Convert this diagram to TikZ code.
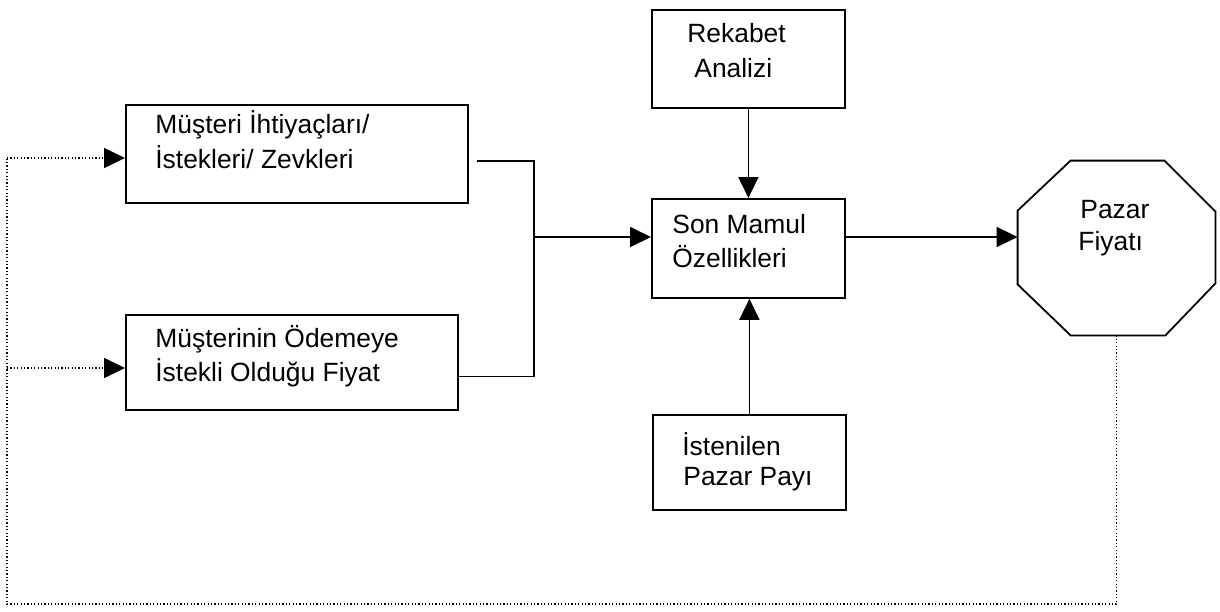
\documentclass[tikz,border=0pt]{standalone}
\usepackage{fontspec}
\setmainfont{Liberation Sans}
\usetikzlibrary{arrows.meta,calc}
\begin{document}
\begin{tikzpicture}[x=0.5pt,y=-0.5pt,
  box/.style={draw,line width=0.9pt,inner sep=0pt,anchor=north west},
  lbl/.style={anchor=base west,inner sep=0pt,font=\fontsize{13.2}{16.5}\selectfont},
  link/.style={line width=0.9pt},
  tip/.style={-{Triangle[length=10.5pt,width=10pt]}},
  dots/.style={line width=0.75pt,dash pattern=on 0.6pt off 1.1pt},
]
\useasboundingbox (0,0) rectangle (1220,611);

% boxes
\node[box,minimum width=171pt,minimum height=49pt]   (b1) at (125,104) {};
\node[box,minimum width=166pt,minimum height=47.5pt] (b2) at (125,314) {};
\node[box,minimum width=96.5pt,minimum height=49pt]  (ra) at (651,9) {};
\node[box,minimum width=96.5pt,minimum height=49.5pt] (sm) at (651,198) {};
\node[box,minimum width=96.5pt,minimum height=47.5pt] (ip) at (652,414) {};

% octagon frame for the price
\node[inner sep=0pt,minimum width=98.5pt,minimum height=87pt] (oct) at (1116.5,248) {};
\draw[link] ($(oct.north west)+(53,0)$) -- ($(oct.north east)+(-51,0)$)
  -- ($(oct.north east)+(0,51)$) -- ($(oct.south east)+(0,-52)$)
  -- ($(oct.south east)+(-50,0)$) -- ($(oct.south west)+(53,0)$)
  -- ($(oct.south west)+(0,-51)$) -- ($(oct.north west)+(0,50)$) -- cycle;

% labels
\node[lbl] (t1a) at (155,133) {Müşteri İhtiyaçları/};
\node[lbl] (t1b) at (155,168) {İstekleri/ Zevkleri};
\node[lbl] (t2a) at (155,347) {Müşterinin Ödemeye};
\node[lbl] (t2b) at (155,381) {İstekli Olduğu Fiyat};
\node[lbl] (t3a) at (687,42) {Rekabet};
\node[lbl] (t3b) at (694,77) {Analizi};
\node[lbl] (t4a) at (672,233) {Son Mamul};
\node[lbl] (t4b) at (672,267) {Özellikleri};
\node[lbl] (t5a) at (682,455) {İstenilen};
\node[lbl] (t5b) at (683,485) {Pazar Payı};
\node[lbl] (t6a) at (1080,218) {Pazar};
\node[lbl] (t6b) at (1078,250) {Fiyatı};

% solid connectors
\coordinate (j) at (534,237);
\draw[link] ([shift={(8,7)}]b1.east) -| (j) |- ([shift={(0,14)}]b2.east);
\draw[link,tip] (j) -- (j -| sm.west);
\draw[link,tip] (ra.south) -- (sm.north);
\draw[link,tip] (ip.north) -- (ip.north |- sm.south);
\draw[link,tip] (sm.east |- j) -- (oct.west |- j);

% dotted feedback loop
\coordinate (c)  at (7,604);
\coordinate (d1) at (7,158);
\coordinate (d2) at (7,368);
\draw[dots] (oct.south) |- (c) -- (d1);
\draw[dots,tip] (d1) -- (d1 -| b1.west);
\draw[dots,tip] (d2) -- (d2 -| b2.west);
\end{tikzpicture}
\end{document}
